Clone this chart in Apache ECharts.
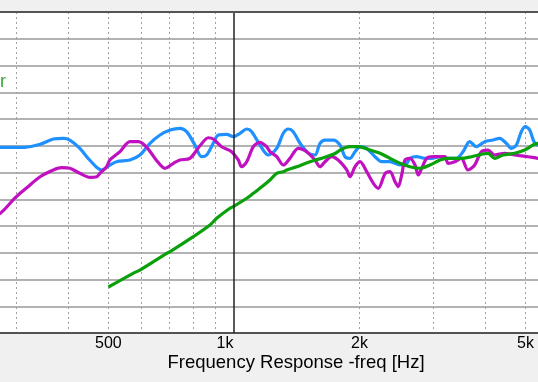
<!DOCTYPE html>
<html><head><meta charset="utf-8">
<script src="https://cdn.jsdelivr.net/npm/echarts@6/dist/echarts.min.js"></script>
<style>html,body{margin:0;padding:0;background:#f0f0f0}#c{width:538px;height:382px}</style>
</head><body><div id="c"></div>
<script>
// Frequencies in Hz, levels in dB
const blueFreq = [260,275,315,343,369,390,404,427,447,469,482,504,523,563,595,629,665,703,742,770,806,836,860,892,917,961,996,1034,1073,1103,1154,1209,1266,1313,1350,1387,1440,1508,1564,1608,1653,1731,1796,1846,1898,1951,2006,2081,2179,2261,2366,2501,2595,2643,2742,2871,2979,3119,3260,3413,3542,3675,3812,3992,4179,4337,4498,4624,4754,4887,4996,5118,5241,5358,5500];
const blueDb   = [74.7,74.71,74.71,75.27,76.26,76.39,76.07,74.52,72.65,70.94,70.47,71.4,72.02,72.34,73.27,75.46,77.01,77.94,78.26,77.63,75.14,72.95,73.27,75.46,77.01,77.14,76.69,77.33,78.13,77.63,75.14,73.27,74.52,77.33,78.13,77.63,75.46,73.59,73.27,75.46,76.07,76.07,75.14,72.95,72.65,73.89,74.82,74.52,72.95,72.02,72.02,71.4,71.72,72.65,72.95,72.65,72.65,72.95,72.65,72.65,73.89,75.76,74.82,75.76,76.07,76.39,75.46,74.52,75.14,77.63,78.56,77.94,75.76,75.14,74.8];

const magFreq = [255,275,299,319,343,369,386,404,427,452,469,477,495,504,533,563,590,618,653,683,716,742,784,829,868,892,934,987,1024,1043,1073,1113,1154,1198,1220,1266,1313,1362,1426,1494,1564,1608,1653,1716,1796,1864,1898,1951,2006,2081,2159,2219,2303,2366,2433,2477,2524,2571,2643,2717,2767,2819,2898,3005,3119,3206,3260,3383,3508,3641,3778,3918,4066,4219,4459,4711,5070,5358,5500];
const magDb   = [61.5,62.37,65.3,67.2,69.21,70.47,70.9,70.78,69.85,69.1,69.21,69.85,71.08,72.34,73.9,75.76,75.76,74.7,72.2,70.78,71.72,72.34,72.65,75.0,76.5,76.26,74.82,73.89,72.34,71.08,72.02,74.82,75.64,74.82,73.89,72.95,71.4,72.65,74.52,73.89,72.34,71.08,72.02,72.95,72.02,70.47,69.21,71.08,72.02,70.15,67.98,67.05,69.8,70.15,68.28,67.35,69.53,72.34,72.65,71.4,69.53,70.78,72.65,72.95,72.95,72.95,71.72,72.02,72.65,70.47,71.4,73.89,74.2,73.27,73.59,73.27,72.95,72.65,72.6];

const greenFreq = [500,573,595,690,703,799,876,909,978,996,1073,1113,1154,1220,1266,1313,1338,1414,1522,1638,1731,1813,1898,1984,2096,2240,2366,2501,2643,2793,2951,3119,3237,3508,3708,3918,4066,4219,4417,4711,4979,5212,5358,5500];
const greenDb   = [48.6,51.16,51.77,54.9,55.2,58.0,60.19,61.44,63.31,63.61,65.18,66.11,67.05,68.6,69.85,70.15,70.47,71.08,72.02,72.77,73.4,74.34,74.82,74.82,74.34,73.6,72.65,71.72,71.08,70.78,71.4,72.34,72.65,72.65,72.95,73.4,73.59,72.65,73.27,73.59,74.2,75.14,75.46,75.8];

const tickLabels = [500, 1000, 2000, 5000];
const gridFreqs = [300, 400, 500, 600, 700, 800, 900, 2000, 3000, 4000, 5000];
const majorFreq = 1000;
const xMin = 274.8, xMax = 5358;
const yMin = 40, yMax = 100, yStep = 5;

const zip = (a, b) => a.map((v, i) => [v, b[i]]);
const fmt = v => v >= 1000 ? (v / 1000) + 'k' : String(v);

const chart = echarts.init(document.getElementById('c'), null, {renderer: 'canvas'});
chart.setOption({
  backgroundColor: '#f0f0f0',
  animation: false,
  grid: {left: 0, right: 0, top: 12, bottom: 49, show: true, backgroundColor: '#ffffff', borderWidth: 0},
  xAxis: {
    type: 'log', logBase: 10, min: xMin, max: xMax,
    axisLine: {show: true, onZero: false, lineStyle: {color: '#333', width: 1.5}},
    axisTick: {show: false, customValues: gridFreqs},
    splitLine: {show: true, lineStyle: {color: '#a0a0a0', width: 1, type: [2, 3]}},
    axisLabel: {
      customValues: tickLabels, margin: 3, color: '#000', fontSize: 16, fontFamily: 'Liberation Sans',
      formatter: v => v === 1000 ? '{s|' + fmt(v) + '}' : fmt(v),
      rich: {s: {fontSize: 16, fontFamily: 'Liberation Sans', color: '#000', padding: [0, 18, 0, 0]}}
    }
  },
  yAxis: {
    type: 'value', min: yMin, max: yMax, interval: yStep,
    axisLine: {show: false}, axisTick: {show: false}, axisLabel: {show: false},
    splitLine: {show: true, lineStyle: {color: '#999999', width: 1.6}}
  },
  graphic: [
    {type: 'text', left: 0, top: 73, style: {text: 'r', fill: '#3aa63a', font: '18px "Liberation Sans"'}},
    {type: 'text', x: 296, y: 363, style: {text: 'Frequency Response -freq [Hz]', fill: '#000', font: '18.5px "Liberation Sans"', textAlign: 'center', textVerticalAlign: 'middle'}}
  ],
  series: [
    {type: 'line', z: 1, data: [], silent: true,
      markLine: {silent: true, symbol: 'none', label: {show: false},
        data: [
          {xAxis: majorFreq, lineStyle: {color: '#222', width: 1.5, type: 'solid'}},
          {yAxis: yMax, lineStyle: {color: '#555', width: 2, type: 'solid'}}
        ]}},
    {type: 'line', name: 'blue', data: zip(blueFreq, blueDb), showSymbol: false, smooth: 0.3,
      lineStyle: {color: '#1e90ff', width: 3.2}, itemStyle: {color: '#1e90ff'}},
    {type: 'line', name: 'magenta', data: zip(magFreq, magDb), showSymbol: false, smooth: 0.3,
      lineStyle: {color: '#c010c0', width: 3.2}, itemStyle: {color: '#c010c0'}},
    {type: 'line', name: 'green', data: zip(greenFreq, greenDb), showSymbol: false, smooth: 0.3,
      lineStyle: {color: '#0aa00a', width: 3.2}, itemStyle: {color: '#0aa00a'}}
  ]
});
</script>
</body></html>
